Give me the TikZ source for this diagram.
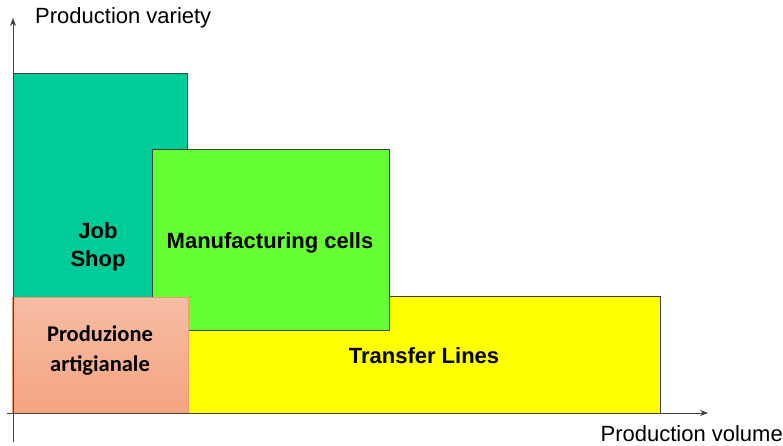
\documentclass[tikz,border=0pt]{standalone}
\usepackage{fontspec}
\setmainfont{Liberation Sans}
\newfontfamily\calibri{Carlito}
\usetikzlibrary{arrows.meta,positioning,calc}
\definecolor{jobshop}{HTML}{00CC99}
\definecolor{cells}{HTML}{66FF33}
\definecolor{transfer}{HTML}{FFFF00}
\definecolor{artisanTop}{HTML}{F7BDA5}
\definecolor{artisanBot}{HTML}{F4A480}
\definecolor{artisanLine}{HTML}{F09A70}
\definecolor{axisgray}{HTML}{404040}
\tikzset{
  axis/.style   = {draw=axisgray, line width=0.8pt, -{Stealth[length=8pt,width=6pt]}},
  area/.style   = {draw=axisgray, line width=0.8pt, rectangle, inner sep=0pt, outer sep=0pt},
  tag/.style    = {align=center, inner sep=0pt, font=\fontsize{22}{28}\selectfont\bfseries},
  axislabel/.style = {font=\fontsize{22}{26}\selectfont, inner sep=0pt}
}

\begin{document}
\begin{tikzpicture}[x=1pt, y=-1pt]
  \useasboundingbox (0,0) rectangle (783,446);

  % axes
  \coordinate (ybot)  at (13,442);
  \coordinate (ytop)  at (13,18);
  \coordinate (xleft) at (7,413);
  \coordinate (xend)  at (708,413);

  % regions, back to front
  \node[area, fill=jobshop, minimum width=174pt, minimum height=340pt]
    (job) at (100,243) {};
  \node[tag] (joblabel) at (98,247) {Job\\Shop};
  \node[area, fill=transfer, minimum width=473pt, minimum height=117pt]
    (lines) at (423.5,354.5) {};
  \node[tag] (lineslabel) at (424,356) {Transfer Lines};
  \node[area, fill=cells, minimum width=237pt, minimum height=181pt]
    (cells) at (270.5,240) {};
  \node[tag] (cellslabel) at (270,242.5) {Manufacturing cells};
  \node[area, draw=artisanLine, top color=artisanTop, bottom color=artisanBot,
        minimum width=176pt, minimum height=116pt]
    (craft) at (100,355) {};
  \node[tag, font=\calibri\fontsize{22.5}{30}\selectfont\bfseries]
    (craftlabel) at (100,351) {Produzione\\artigianale};

  \draw[axis] (ybot) -- (ytop);
  \draw[axis] (xleft) -- (xend);

  \node[axislabel, anchor=west] (vlabel) at (35,18) {Production variety};
  \node[axislabel, anchor=east] (hlabel) at (783,434) {Production volume};
\end{tikzpicture}
\end{document}
